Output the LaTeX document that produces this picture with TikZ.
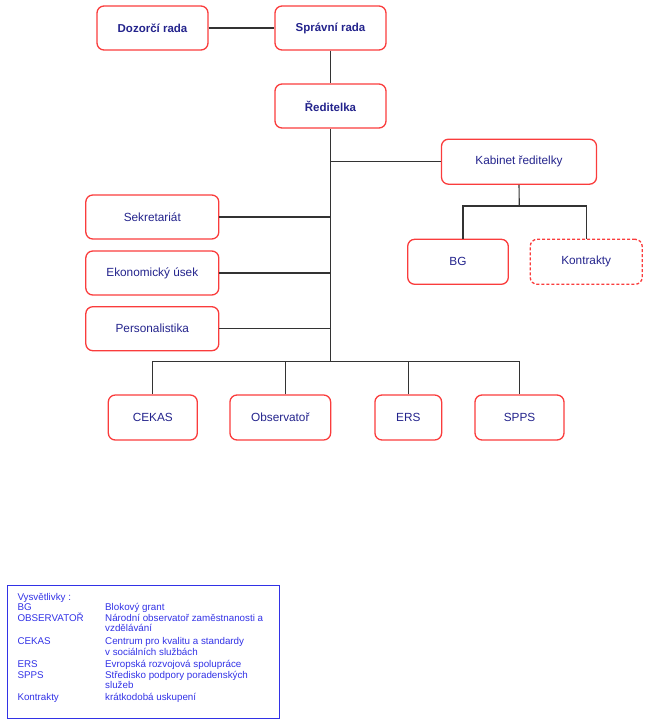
\documentclass[tikz,border=0pt]{standalone}
\usepackage{fontspec}
\setmainfont{Liberation Sans}
\definecolor{boxred}{RGB}{250,60,60}
\definecolor{boxtext}{RGB}{35,35,140}
\definecolor{legblue}{RGB}{50,50,230}

\begin{document}
\begin{tikzpicture}[x=1pt,y=-1pt,
  unit/.style={draw=boxred, line width=1.3pt, rounded corners=7pt, text=boxtext,
    font=\fontsize{11.8}{13}\selectfont, inner sep=0pt, minimum height=44pt},
  board/.style={unit, font=\fontsize{11.5}{13}\selectfont\bfseries},
  temp/.style={unit, dash pattern=on 3pt off 2pt},
  link/.style={draw=black!80, line width=1.1pt},
  legend/.style={anchor=base west, inner sep=0pt, text=legblue, font=\fontsize{9.8}{11}\selectfont}]
\useasboundingbox (0,0) rectangle (653,722);

% top
\node[board, minimum width=111pt] (dozorci) at (152.5,28) {Dozorčí rada};
\node[board, minimum width=111pt] (spravni) at (330.5,28) {Správní rada};
\node[board, minimum width=111pt] (reditelka) at (330.5,106) {Ředitelka};
\draw[link] (dozorci) -- (spravni);
\draw[link] (spravni) -- (reditelka);

% kabinet
\node[unit, minimum width=155pt, minimum height=45pt] (kabinet) at (519,161.7) {Kabinet ředitelky};
\node[unit, minimum width=100.6pt, minimum height=45pt] (bg) at (458,261.8) {BG};
\node[temp, minimum width=112pt, minimum height=45pt] (kontrakty) at (586.2,261.8) {Kontrakty};
\coordinate (kb) at (519.3,206);
\draw[link] (kabinet.south) -- (kb);
\draw[link] ([xshift=5pt]bg.north) |- (kontrakty.north |- kb) -- (kontrakty.north);

% left side
\node[unit, minimum width=133pt] (sekretariat) at (152.3,217) {Sekretariát};
\node[unit, minimum width=133pt] (ekonom) at (152.3,273) {\raisebox{-3pt}{Ekonomický úsek}};
\node[unit, minimum width=133pt] (personal) at (152.3,328.7) {Personalistika};

% trunk
\coordinate (bus) at (330.5,361.7);
\draw[link] (reditelka.south) -- (bus);
\draw[link] (kabinet.west) -- (kabinet.west -| bus);
\draw[link] (sekretariat.east) -- (sekretariat.east -| bus);
\draw[link] (ekonom.east) -- (ekonom.east -| bus);
\draw[link] (personal.east) -- (personal.east -| bus);

% bottom
\node[unit, minimum width=89pt, minimum height=45pt] (cekas) at (152.8,417.5) {CEKAS};
\node[unit, minimum width=100.7pt, minimum height=45pt] (observator) at (280.3,417.5) {Observatoř};
\node[unit, minimum width=66.7pt, minimum height=45pt] (ers) at (408.3,417.5) {ERS};
\node[unit, minimum width=89pt, minimum height=45pt] (spps) at (519.5,417.5) {SPPS};
\draw[link] (cekas.north) |- (spps.north |- bus) -- (spps.north);
\draw[link] ([xshift=5.4pt]observator.north) -- ([xshift=5.4pt]observator.north |- bus);
\draw[link] (ers.north) -- (ers.north |- bus);

% legend
\draw[draw=legblue, line width=1pt] (7.3,585) rectangle (279.3,718.3);
\node[legend] (vys) at (17.3,600.8) {Vysvětlivky :};
\node[legend] (k1) at (17.3,610.8) {BG};
\node[legend] (v1) at (105,610.8) {Blokový grant};
\node[legend] (k2) at (17.3,621.5) {OBSERVATOŘ};
\node[legend] (v2) at (105,621.5) {Národní observatoř zaměstnanosti a};
\node[legend] (v2b) at (105,631.8) {vzdělávání};
\node[legend] (k3) at (17.3,644.2) {CEKAS};
\node[legend] (v3) at (105,644.2) {Centrum pro kvalitu a standardy};
\node[legend] (v3b) at (105,655.5) {v sociálních službách};
\node[legend] (k4) at (17.3,667.5) {ERS};
\node[legend] (v4) at (105,667.5) {Evropská rozvojová spolupráce};
\node[legend] (k5) at (17.3,678.5) {SPPS};
\node[legend] (v5) at (105,678.5) {Středisko podpory poradenských};
\node[legend] (v5b) at (105,688.8) {služeb};
\node[legend] (k6) at (17.3,700.5) {Kontrakty};
\node[legend] (v6) at (105,700.5) {krátkodobá uskupení};
\end{tikzpicture}
\end{document}
